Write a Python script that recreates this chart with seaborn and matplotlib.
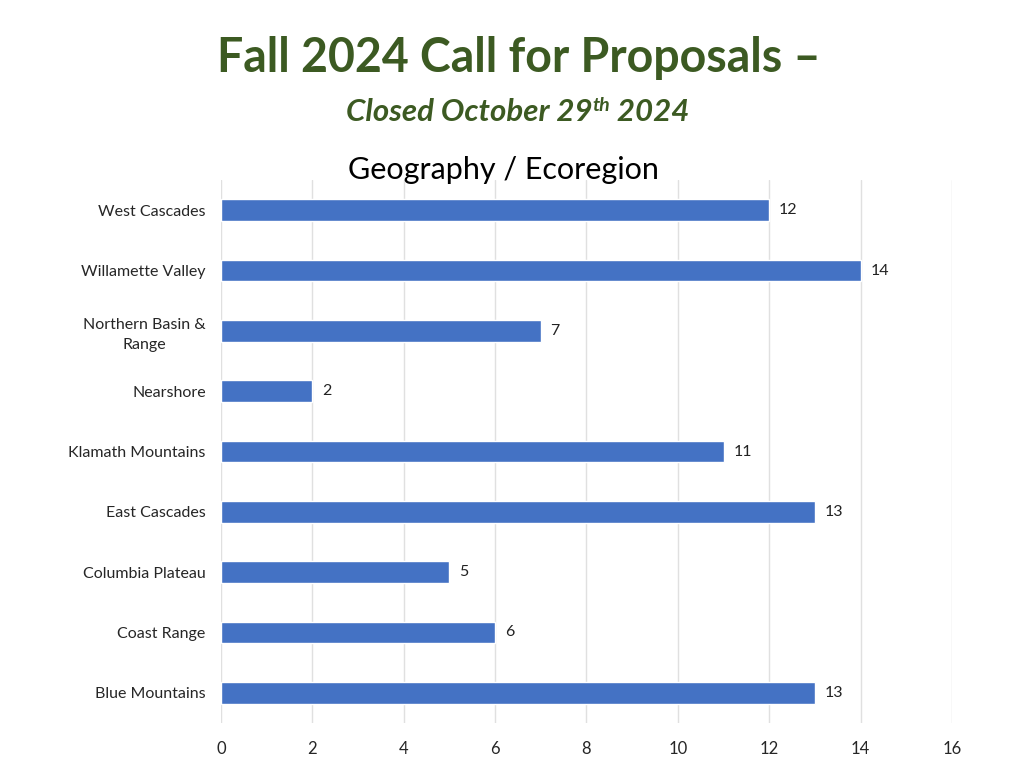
import matplotlib.pyplot as plt
import seaborn as sns
import pandas as pd

regions = ['West Cascades', 'Willamette Valley', 'Northern Basin &\nRange', 'Nearshore',
           'Klamath Mountains', 'East Cascades', 'Columbia Plateau', 'Coast Range',
           'Blue Mountains']
counts = [12, 14, 7, 2, 11, 13, 5, 6, 13]
x_ticks = [0, 2, 4, 6, 8, 10, 12, 14, 16]

GREEN = '#3C5A22'
BLUE = '#4472C4'

sns.set_style('white')
plt.rcParams['font.family'] = ['Lato', 'DejaVu Sans']

data = pd.DataFrame({'region': regions, 'count': counts})

fig = plt.figure(figsize=(10.24, 7.68), dpi=100)
ax = fig.add_axes([0.2158, 0.0586, 0.7139, 0.707])

sns.barplot(data=data, y='region', x='count', color=BLUE, width=0.36,
            saturation=1, ax=ax, orient='h')
ax.set_xlim(0, 16)
ax.set_ylim(8.5, -0.5)
ax.set_xticks(x_ticks)
ax.set_xticklabels([str(t) for t in x_ticks], fontsize=12)
ax.tick_params(axis='x', length=0, pad=13)
ax.tick_params(axis='y', length=0, pad=11, labelsize=11.5)
for lbl in ax.get_yticklabels():
    lbl.set_multialignment('center')
    lbl.set_linespacing(1.55)
ax.set_xlabel('')
ax.set_ylabel('')
ax.grid(axis='x', color='#E0E0E0', linewidth=1)
ax.set_axisbelow(True)
for s in ax.spines.values():
    s.set_visible(False)

for cont in ax.containers:
    ax.bar_label(cont, padding=7, fontsize=11.5, color='#222222')

# titles
fig.text(0.507, 0.925, 'Fall 2024 Call for Proposals \u2013', ha='center', va='center',
         fontsize=33.5, fontweight='bold', color=GREEN)

renderer = fig.canvas.get_renderer()
parts = [('Closed October 29', 22.5, 0), ('th', 14, 10), (' 2024', 22.5, 0)]
texts = []
for s, fs, dy in parts:
    t = fig.text(0, 0, s, fontsize=fs, fontweight='bold', style='italic', color=GREEN,
                 va='baseline', ha='left')
    texts.append((t, dy))
widths = [t.get_window_extent(renderer).width for t, _ in texts]
total = sum(widths)
x0 = 518 - total / 2
base_y = 768 - 121
for (t, dy), w in zip(texts, widths):
    t.set_position((x0 / 1024, (base_y + dy) / 768))
    x0 += w

fig.text(503 / 1024, 0.779, 'Geography / Ecoregion', ha='center', va='center',
         fontsize=22, color='black')

plt.savefig('out.png', dpi=100)
